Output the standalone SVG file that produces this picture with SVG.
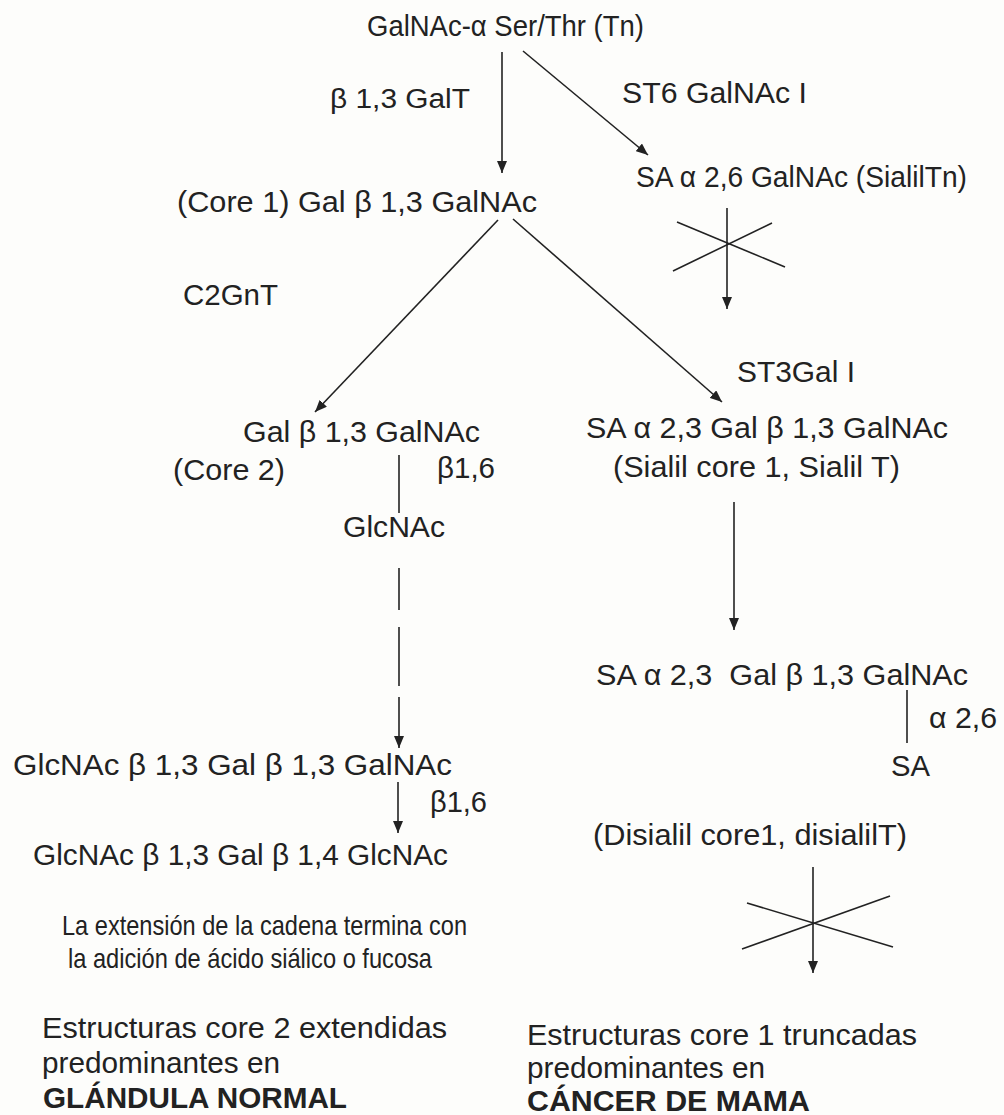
<svg xmlns="http://www.w3.org/2000/svg" width="1004" height="1115" viewBox="0 0 1004 1115">
<style>
.t{font-family:"Liberation Sans",Arial,Helvetica,sans-serif;font-size:29px;fill:#222}
.s{font-size:27px}
.n{font-family:"Liberation Sans Narrow","Liberation Sans",Arial,sans-serif;font-size:28px}
.b{font-weight:bold}
.ln{stroke:#222;stroke-width:1.6;fill:none}
.ar{marker-end:url(#ah)}
</style>
<defs>
<marker id="ah" markerWidth="12" markerHeight="10" refX="12" refY="5" orient="auto" markerUnits="userSpaceOnUse">
<path d="M0,0 L12,5 L0,10 Z" fill="#222"/>
</marker>
</defs>
<rect width="1004" height="1115" fill="#fdfdfb"/>

<g id="connectors">
<line class="ln ar" x1="502" y1="52" x2="502" y2="173"/>
<line class="ln ar" x1="523" y1="51" x2="648" y2="155"/>
<line class="ln ar" x1="498" y1="220" x2="315" y2="412"/>
<line class="ln ar" x1="513" y1="219" x2="722" y2="402"/>
<line class="ln ar" x1="727" y1="208" x2="727" y2="309"/>
<line class="ln" x1="677" y1="222" x2="785" y2="267"/>
<line class="ln" x1="673" y1="271" x2="772" y2="223"/>
<line class="ln" x1="399" y1="455" x2="399" y2="513"/>
<line class="ln" x1="399" y1="568" x2="399" y2="610"/>
<line class="ln" x1="399" y1="627" x2="399" y2="686"/>
<line class="ln ar" x1="399" y1="697" x2="399" y2="748"/>
<line class="ln ar" x1="398" y1="782" x2="398" y2="833"/>
<line class="ln ar" x1="734" y1="502" x2="734" y2="630"/>
<line class="ln" x1="907" y1="690" x2="907" y2="743"/>
<line class="ln ar" x1="813" y1="867" x2="813" y2="973"/>
<line class="ln" x1="747" y1="903" x2="893" y2="947"/>
<line class="ln" x1="742" y1="949" x2="890" y2="896"/>
</g>

<g id="tn"><text class="t" x="367" y="36" textLength="277" lengthAdjust="spacingAndGlyphs">GalNAc-α Ser/Thr (Tn)</text></g>
<g id="enz-galt"><text class="t s" x="330" y="108" textLength="140" lengthAdjust="spacingAndGlyphs">β 1,3 GalT</text></g>
<g id="enz-st6"><text class="t" x="622" y="103" textLength="185" lengthAdjust="spacingAndGlyphs">ST6 GalNAc I</text></g>
<g id="core1"><text class="t" x="177" y="212" textLength="360" lengthAdjust="spacingAndGlyphs">(Core 1) Gal β 1,3 GalNAc</text></g>
<g id="sialyltn"><text class="t" x="636" y="187" textLength="331" lengthAdjust="spacingAndGlyphs">SA α 2,6 GalNAc (SialilTn)</text></g>
<g id="enz-c2gnt"><text class="t" x="183" y="305" textLength="95" lengthAdjust="spacingAndGlyphs">C2GnT</text></g>
<g id="enz-st3"><text class="t" x="737" y="382" textLength="118" lengthAdjust="spacingAndGlyphs">ST3Gal I</text></g>
<g id="core2">
<text class="t" x="243" y="442" textLength="237" lengthAdjust="spacingAndGlyphs">Gal β 1,3 GalNAc</text>
<text class="t" x="173" y="480" textLength="112" lengthAdjust="spacingAndGlyphs">(Core 2)</text>
<text class="t" x="437" y="478" textLength="58" lengthAdjust="spacingAndGlyphs">β1,6</text>
<text class="t" x="343" y="537" textLength="102" lengthAdjust="spacingAndGlyphs">GlcNAc</text>
</g>
<g id="sialylt">
<text class="t" x="586" y="438" textLength="362" lengthAdjust="spacingAndGlyphs">SA α 2,3 Gal β 1,3 GalNAc</text>
<text class="t" x="613" y="477" textLength="287" lengthAdjust="spacingAndGlyphs">(Sialil core 1, Sialil T)</text>
</g>
<g id="disialylt">
<text class="t" x="596" y="685" textLength="372" lengthAdjust="spacingAndGlyphs" xml:space="preserve">SA α 2,3  Gal β 1,3 GalNAc</text>
<text class="t" x="929" y="728" textLength="68" lengthAdjust="spacingAndGlyphs">α 2,6</text>
<text class="t" x="891" y="776" textLength="39" lengthAdjust="spacingAndGlyphs">SA</text>
<text class="t" x="593" y="845" textLength="314" lengthAdjust="spacingAndGlyphs">(Disialil core1, disialilT)</text>
</g>
<g id="extended">
<text class="t" x="13" y="775" textLength="439" lengthAdjust="spacingAndGlyphs">GlcNAc β 1,3 Gal β 1,3 GalNAc</text>
<text class="t" x="430" y="812" textLength="57" lengthAdjust="spacingAndGlyphs">β1,6</text>
<text class="t" x="33" y="865" textLength="415" lengthAdjust="spacingAndGlyphs">GlcNAc β 1,3 Gal β 1,4 GlcNAc</text>
</g>
<g id="note">
<text class="t n" x="62" y="935" textLength="405" lengthAdjust="spacingAndGlyphs">La extensión de la cadena termina con</text>
<text class="t n" x="68" y="968" textLength="364" lengthAdjust="spacingAndGlyphs">la adición de ácido siálico o fucosa</text>
</g>
<g id="normal">
<text class="t" x="42" y="1038" textLength="405" lengthAdjust="spacingAndGlyphs">Estructuras core 2 extendidas</text>
<text class="t" x="42" y="1073" textLength="238" lengthAdjust="spacingAndGlyphs">predominantes en</text>
<text class="t b" x="43" y="1108" textLength="304" lengthAdjust="spacingAndGlyphs">GLÁNDULA NORMAL</text>
</g>
<g id="cancer">
<text class="t" x="527" y="1045" textLength="390" lengthAdjust="spacingAndGlyphs">Estructuras core 1 truncadas</text>
<text class="t" x="527" y="1078" textLength="238" lengthAdjust="spacingAndGlyphs">predominantes en</text>
<text class="t b" x="527" y="1111" textLength="283" lengthAdjust="spacingAndGlyphs">CÁNCER DE MAMA</text>
</g>
</svg>
